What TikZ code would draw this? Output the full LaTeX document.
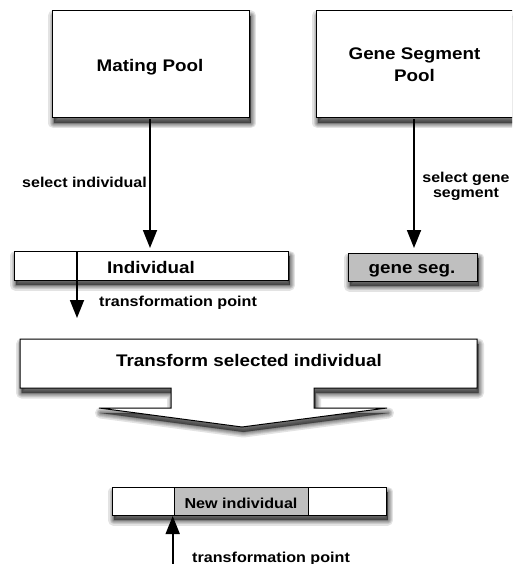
\documentclass[tikz,border=0pt]{standalone}
\usepackage{fontspec}
\setmainfont{Liberation Sans}[FakeStretch=1.12]
\usetikzlibrary{arrows.meta}
% soft drop shadow built from stacked translucent strokes
\newcommand{\softshadow}[1]{%
  \foreach \w in {11,8,6,4,2,0.5}{%
    \path[fill=black,draw=black,opacity=0.11,line width=\w pt,line join=round,
      xshift=1.5pt,yshift=-5pt] #1;}}
\begin{document}
\begin{tikzpicture}[x=1pt,y=-1pt,
  shade box/.style={draw=black,line width=1pt,fill=white},
  flowarrow/.style={line width=1.8pt,-{Triangle[width=14pt,length=18pt]}},
  bigtxt/.style={font=\fontsize{16.8}{20}\selectfont\bfseries,inner sep=0pt,anchor=base},
  midtxt/.style={font=\fontsize{14.4}{17}\selectfont\bfseries,inner sep=0pt,anchor=base west},
  smalltxt/.style={font=\fontsize{14.3}{16}\selectfont\bfseries,inner sep=0pt}]
\useasboundingbox (0,0) rectangle (512,564);
\begin{scope}
\clip (0,0) rectangle (512,564);

% shadows
\softshadow{(52,11) rectangle (249,118)}
\softshadow{(316,11) rectangle (530,118)}
\softshadow{(14,251) rectangle (288,280)}
\softshadow{(348,253) rectangle (477,281)}
\softshadow{(20,339) -- (477,339) -- (477,388) -- (314,388) -- (314,408)
  -- (387,408) -- (242,427) -- (99,408) -- (171,408) -- (171,388) -- (20,388) -- cycle}
\softshadow{(112,487) rectangle (386,515)}

% pools
\path[shade box] (52,11) rectangle (249,118);
\path[shade box] (316,11) rectangle (530,118);
\node[bigtxt] (mp) at (150,71.3) {Mating Pool};
\node[bigtxt,align=center,anchor=north] (gsp) at (414.5,47.5) {Gene Segment\\[2.5pt]Pool};

% individual and gene segment
\path[shade box] (14,251) rectangle (288,280);
\node[bigtxt] (ind) at (151,273) {Individual};
\path[shade box,fill=black!25] (348,253) rectangle (477,281);
\node[bigtxt] (gs) at (412,273) {gene seg.};

% transformation block arrow
\path[shade box] (20,339) -- (477,339) -- (477,388) -- (314,388) -- (314,408)
  -- (387,408) -- (242,427) -- (99,408) -- (171,408) -- (171,388) -- (20,388) -- cycle;
\node[bigtxt] (tsi) at (249,366) {Transform selected individual};

% new individual
\path[shade box] (112,487) rectangle (386,515);
\path[draw=black,line width=1pt,fill=black!25] (174,487) rectangle (308,515);
\node[midtxt,anchor=base] (ni) at (241,508) {New individual};

% connectors
\coordinate (mpb) at (150,119);
\coordinate (indt) at (150,248);
\draw[flowarrow] (mpb) -- (indt);
\coordinate (gspb) at (414,119);
\coordinate (gst) at (414,248);
\draw[flowarrow] (gspb) -- (gst);
\coordinate (tpa) at (77,251);
\coordinate (tpb) at (77,318);
\draw[flowarrow] (tpa) -- (tpb);
\coordinate (tpc) at (172.7,570);
\coordinate (tpd) at (172.7,516);
\draw[flowarrow] (tpc) -- (tpd);

% labels
\node[smalltxt,anchor=base east] (l1) at (147,187) {select individual};
\node[smalltxt,align=center,anchor=north] (l2) at (466,172) {select gene\\[-1pt]segment};
\node[midtxt] (l3) at (99,306.7) {transformation point};
\node[midtxt] (l4) at (192,562) {transformation point};
\end{scope}
\end{tikzpicture}
\end{document}
